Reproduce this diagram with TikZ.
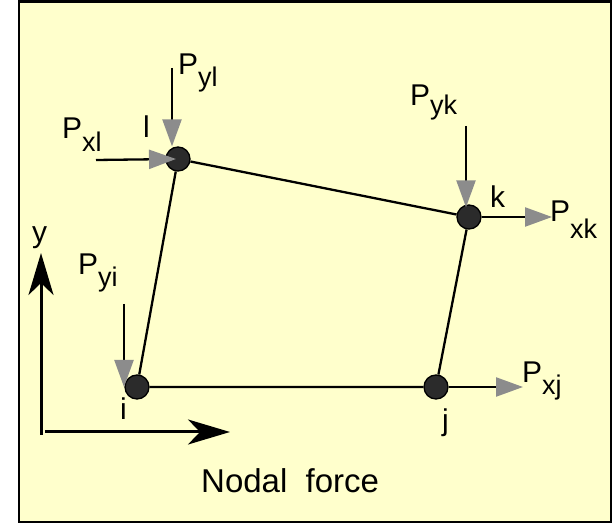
\documentclass[tikz,border=0pt]{standalone}
\usepackage{fontspec}
\setmainfont{Liberation Sans}
\usetikzlibrary{arrows.meta}
\definecolor{paper}{HTML}{FFFFCC}
\definecolor{tipgray}{HTML}{8C8C8C}
\definecolor{jointfill}{HTML}{2B2B2B}
\newcommand{\subf}{\fontsize{27}{27}\selectfont}
\newcommand{\force}[2][12pt]{P\raisebox{-#1}{\subf #2}}

\begin{document}
\begin{tikzpicture}[x=1pt, y=-1pt,
  joint/.style={circle, draw, line width=1.3pt, fill=jointfill,
                minimum size=24pt, inner sep=0pt},
  edge/.style={line width=2.3pt},
  load/.style={line width=2.3pt, -{Triangle[length=27pt, width=19pt, color=tipgray]}},
  axis/.style={line width=3pt, -{Stealth[length=42pt, width=25pt, inset=12pt]}},
  lbl/.style={inner sep=0pt, anchor=base west, font=\fontsize{30}{36}\selectfont}
]
  \useasboundingbox (0,0) rectangle (616,526);
  % Frame
  \draw[line width=2.5pt, fill=paper] (19,1.5) rectangle (611,522);
  % Corner joints of the element
  \node[joint] (l) at (178,159) {};
  \node[joint] (k) at (469,217) {};
  \node[joint] (j) at (436,387) {};
  \node[joint] (i) at (137,387) {};
  % Element sides
  \draw[edge] (l) -- (k) -- (j) -- (i) -- (l);
  % Nodal loads
  \coordinate (pyl) at (172,68);
  \coordinate (pxl) at (96,160);
  \coordinate (pyk) at (466,126);
  \coordinate (pxk) at (552,217);
  \coordinate (pyi) at (124,304);
  \coordinate (pxj) at (523,387);
  \draw[load] (pyl) -- (pyl |- l.north);
  \draw[load] (pxl) -- ([xshift=-2pt]l.center);
  \draw[load] (pyk) -- ([yshift=-3pt]pyk |- k.north);
  \draw[load] (k) -- (pxk);
  \draw[load] (pyi) -- (pyi |- i.center);
  \draw[load] (j) -- (pxj);
  % Axes
  \coordinate (ybase) at (41,435);
  \coordinate (ytip)  at (41,253);
  \coordinate (xbase) at (45,432);
  \coordinate (xtip)  at (230,432);
  \draw[axis] (ybase) -- (ytip);
  \draw[axis] (xbase) -- (xtip);
  % Labels
  \node[lbl] (Pyl) at (178,75)  {\force{yl}};
  \node[lbl] (Pxl) at (62,139)  {\force[13pt]{xl}};
  \node[lbl] (labl) at (143,138) {l};
  \node[lbl] (Pyk) at (410,106) {\force[9pt]{yk}};
  \node[lbl] (labk) at (490,208) {k};
  \node[lbl] (Pxk) at (550,222) {\force[17pt]{xk}};
  \node[lbl] (Pyi) at (78,275)  {\force{yi}};
  \node[lbl] (labi) at (120,420) {i};
  \node[lbl] (Pxj) at (522,383) {\force{xj}};
  \node[lbl] (labj) at (442,431) {j};
  \node[lbl] (laby) at (32,243)  {y};
  \node[lbl, font=\fontsize{33}{36}\selectfont] (caption) at (201,492) {Nodal\ \ force};
\end{tikzpicture}
\end{document}
